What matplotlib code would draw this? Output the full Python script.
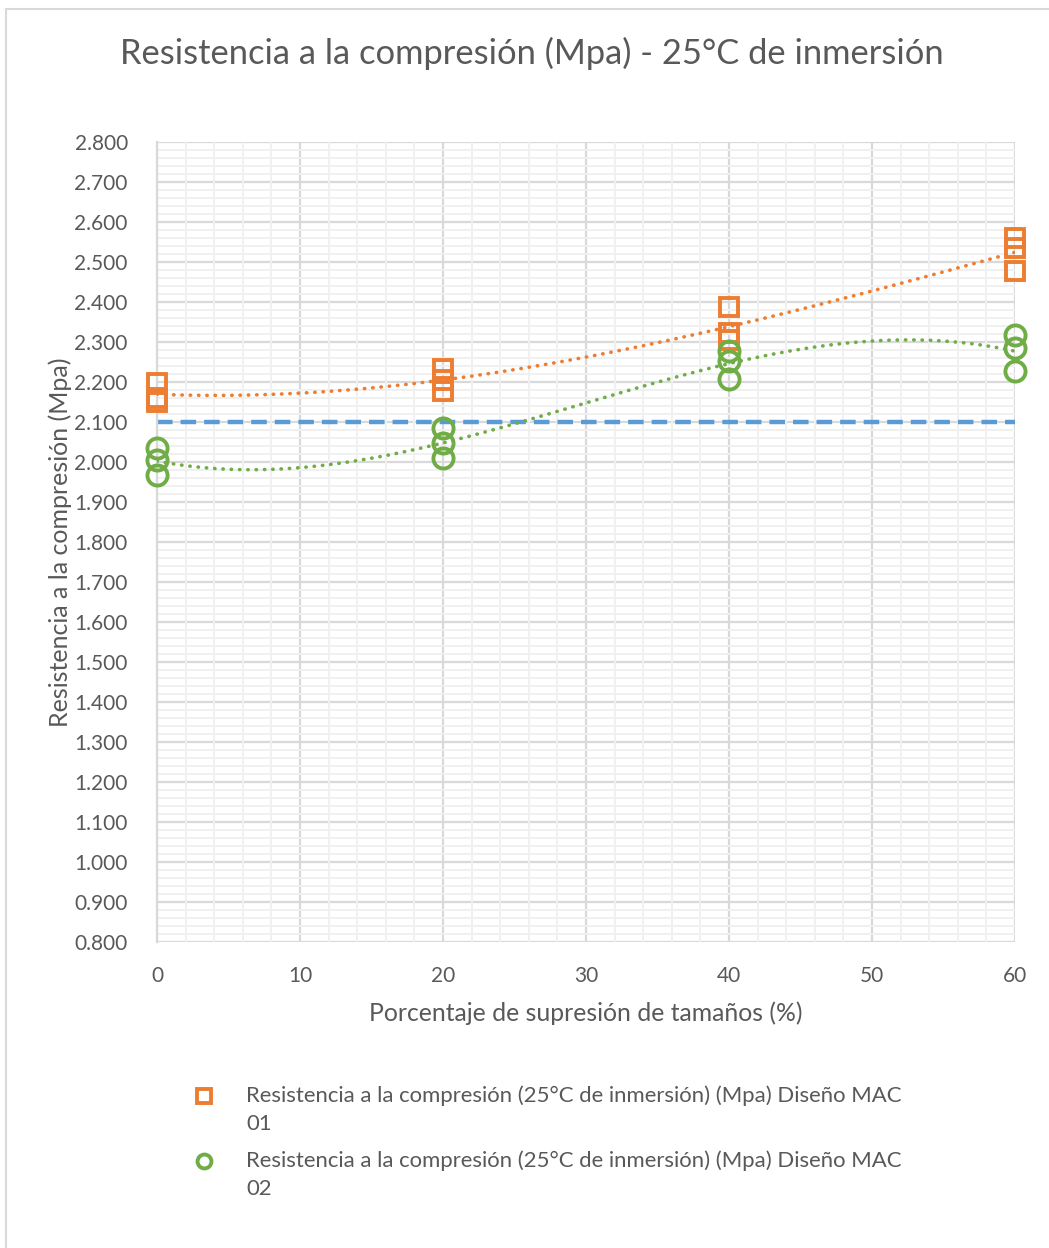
import matplotlib
matplotlib.use("Agg")
import matplotlib.pyplot as plt
import numpy as np
from matplotlib.lines import Line2D
from matplotlib.ticker import MultipleLocator, FormatStrFormatter

plt.rcParams['font.family'] = ['Lato', 'DejaVu Sans']

# ensayos por porcentaje de supresion (3 probetas por punto)
x_mac01 = [0, 0, 0, 20, 20, 20, 40, 40, 40, 60, 60, 60]
y_mac01 = [2.198, 2.160, 2.150, 2.232, 2.205, 2.178, 2.388, 2.322, 2.305, 2.560, 2.535, 2.478]
x_mac02 = [0, 0, 0, 20, 20, 20, 40, 40, 40, 60, 60, 60]
y_mac02 = [2.035, 2.005, 1.967, 2.085, 2.048, 2.010, 2.278, 2.252, 2.208, 2.318, 2.285, 2.228]
limite = 2.100

lbl1 = "Resistencia a la compresión (25°C de inmersión) (Mpa) Diseño MAC"
lbl2 = "Resistencia a la compresión (25°C de inmersión) (Mpa) Diseño MAC"

naranja = "#ED7D31"
verde = "#70AD47"
azul = "#5B9BD5"
gris = "#595959"

fig = plt.figure(figsize=(10.49, 12.48), dpi=100)
ax = fig.add_axes([157/1049, 1 - 942/1248, (1015-157)/1049, (942-142)/1248])

# grilla estilo excel
ax.set_xlim(0, 60)
ax.set_ylim(0.8, 2.8)
ax.xaxis.set_major_locator(MultipleLocator(10))
ax.xaxis.set_minor_locator(MultipleLocator(2))
ax.yaxis.set_major_locator(MultipleLocator(0.1))
ax.yaxis.set_minor_locator(MultipleLocator(0.02))
ax.yaxis.set_major_formatter(FormatStrFormatter('%.3f'))
ax.grid(which='minor', color='#F0F0F0', lw=1.4, zorder=0)
for v in ax.get_xticks():
    ax.axvline(v, color='#D9D9D9', lw=1.6, zorder=0.5)
for v in ax.get_yticks():
    ax.axhline(v, color='#D9D9D9', lw=1.6, zorder=0.5)
ax.set_axisbelow(True)
for s in ['top', 'right', 'bottom']:
    ax.spines[s].set_visible(False)
ax.spines['left'].set_color('#D9D9D9')
ax.spines['left'].set_linewidth(1.6)
ax.tick_params(which='both', length=0, labelsize=15, labelcolor=gris)
ax.tick_params(axis='x', pad=17)
ax.tick_params(axis='y', pad=21)

# linea limite
ax.axhline(limite, color=azul, lw=3.2, ls=(0, (3.5, 1.8)), zorder=2)

# lineas de tendencia polinomicas
xs = np.linspace(0, 60, 300)
p1 = np.polyfit(x_mac01, y_mac01, 3)
p2 = np.polyfit(x_mac02, y_mac02, 3)
ax.plot(xs, np.polyval(p1, xs), color=naranja, lw=2.6, ls=(0, (0.1, 2.2)),
        dash_capstyle='round', zorder=3)
ax.plot(xs, np.polyval(p2, xs), color=verde, lw=2.6, ls=(0, (0.1, 2.2)),
        dash_capstyle='round', zorder=3)

ax.plot(x_mac01, y_mac01, ls='none', marker='s', ms=13.5, mfc='none', mec=naranja,
        mew=2.8, clip_on=False, zorder=4)
ax.plot(x_mac02, y_mac02, ls='none', marker='o', ms=14.5, mfc='none', mec=verde,
        mew=2.8, clip_on=False, zorder=4)

fig.text(532/1049, 1 - 53/1248, "Resistencia a la compresión (Mpa) - 25°C de inmersión",
         ha='center', va='center', fontsize=24.8, color=gris)
fig.text(586/1049, 1 - 1013/1248, "Porcentaje de supresión de tamaños (%)",
         ha='center', va='center', fontsize=17.8, color=gris)
fig.text(60/1049, 1 - 542/1248, "Resistencia a la compresión (Mpa)", rotation=90,
         ha='center', va='center', fontsize=18, color=gris)

# leyenda
fig.add_artist(Line2D([204/1049], [1 - 1096/1248], marker='s', ms=10, mfc='none',
                      mec=naranja, mew=2.8, transform=fig.transFigure))
fig.add_artist(Line2D([204/1049], [1 - 1161/1248], marker='o', ms=10, mfc='none',
                      mec=verde, mew=2.8, transform=fig.transFigure))
fig.text(246/1049, 1 - 1096/1248, lbl1, ha='left', va='center', fontsize=15.9, color=gris)
fig.text(246/1049, 1 - 1124/1248, "01", ha='left', va='center', fontsize=15.9, color=gris)
fig.text(246/1049, 1 - 1161/1248, lbl2, ha='left', va='center', fontsize=15.9, color=gris)
fig.text(246/1049, 1 - 1189/1248, "02", ha='left', va='center', fontsize=15.9, color=gris)

# borde del area del grafico
fig.add_artist(Line2D([6/1049, 6/1049], [0, 1 - 9/1248], color='#D9D9D9', lw=1.5,
                      transform=fig.transFigure))
fig.add_artist(Line2D([6/1049, 1], [1 - 9/1248, 1 - 9/1248], color='#D9D9D9', lw=1.5,
                      transform=fig.transFigure))

fig.savefig("out.png", dpi=100)
